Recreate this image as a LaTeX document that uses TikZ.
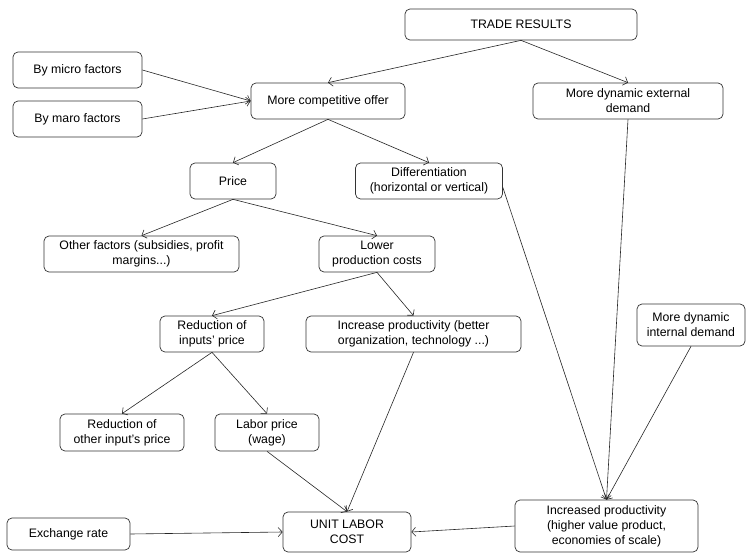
\documentclass[tikz,border=0pt]{standalone}
\usepackage{fontspec}
\setmainfont{Liberation Sans}
\usetikzlibrary{arrows.meta}

\begin{document}
\begin{tikzpicture}[
    x=1pt, y=-1pt,
    >={Straight Barb[length=4pt,width=9pt]},
    box/.style={
        draw=black!80, rectangle, rounded corners=5pt, line width=0.7pt,
        align=center, font=\fontsize{12.3}{15}\selectfont, inner sep=1pt
    },
    link/.style={->, line width=0.6pt, draw=black!85}
]

\useasboundingbox (0,0) rectangle (746,553);

\node[box, minimum width=232pt, minimum height=31pt] (Trade) at (521,24.5) {TRADE RESULTS};

\node[box, minimum width=129pt, minimum height=36pt] (Micro) at (77.5,70) {By micro factors};
\node[box, minimum width=129pt, minimum height=36pt] (Macro) at (77.5,119) {By maro factors};

\node[box, minimum width=154pt, minimum height=36pt] (Offer) at (328,101) {More competitive offer};
\node[box, minimum width=190pt, minimum height=36pt] (ExtDemand) at (628,101) {More dynamic external\\demand};

\node[box, minimum width=86pt, minimum height=36pt] (Price) at (233,181) {Price};
\node[box, minimum width=147pt, minimum height=36pt] (Diff) at (429,181) {Differentiation\\(horizontal or vertical)};

\node[box, minimum width=195pt, minimum height=36pt] (Other) at (141.5,254) {Other factors (subsidies, profit\\margins...)};
\node[box, minimum width=116pt, minimum height=36pt] (Costs) at (377,254) {Lower\\production costs};

\node[box, minimum width=104pt, minimum height=36pt] (Inputs) at (212,334) {Reduction of\\inputs' price};
\node[box, minimum width=215pt, minimum height=36pt] (IncProd) at (413.5,334) {Increase productivity (better\\organization, technology ...)};
\node[box, minimum width=108pt, minimum height=42pt] (IntDemand) at (691,325) {More dynamic\\internal demand};

\node[box, minimum width=124pt, minimum height=37pt] (OtherInput) at (122,432.5) {Reduction of\\other input's price};
\node[box, minimum width=104pt, minimum height=37pt] (Labor) at (267,432.5) {Labor price\\(wage)};

\node[box, minimum width=123pt, minimum height=32pt] (Exchange) at (68.5,534) {Exchange rate};
\node[box, minimum width=128pt, minimum height=40pt] (ULC) at (347,532) {UNIT LABOR\\COST};
\node[box, minimum width=183pt, minimum height=52pt] (Prod) at (606.5,526) {Increased productivity\\(higher value product,\\economies of scale)};

\draw[link] (Trade.south) -- (Offer.north);
\draw[link] (Trade.south) -- (ExtDemand.north);
\draw[link] (Micro.east) -- (Offer.west);
\draw[link] (Macro.east) -- (Offer.west);
\draw[link] (Offer.south) -- (Price.north);
\draw[link] (Offer.south) -- (Diff.north);
\draw[link] (Price.south) -- (Other.north);
\draw[link] (Price.south) -- (Costs.north);
\draw[link] (Costs.south) -- (Inputs.north);
\draw[link] (Costs.south) -- (IncProd.north);
\draw[link] (Inputs.south) -- (OtherInput.north);
\draw[link] (Inputs.south) -- (Labor.north);
\draw[link] (Labor.south) -- (ULC.north);
\draw[link] (IncProd.south) -- (ULC.north);
\draw[link] (Exchange.east) -- (ULC.west);
\draw[link] (Diff.-5) -- (Prod.north);
\draw[link] (ExtDemand.south) -- (Prod.north);
\draw[link] (IntDemand.south) -- (Prod.north);
\draw[link] (Prod.west) -- (ULC.east);

\end{tikzpicture}
\end{document}
